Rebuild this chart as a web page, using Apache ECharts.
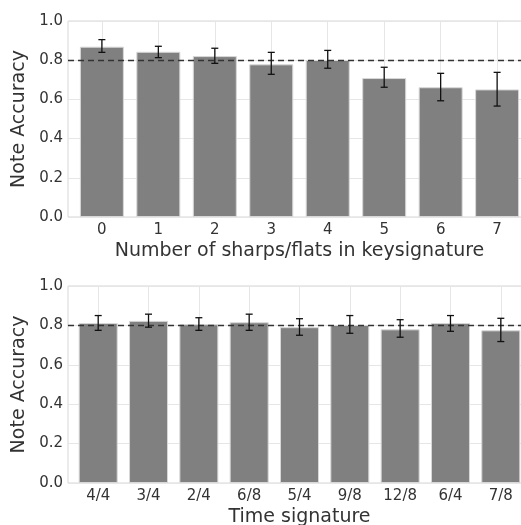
<!DOCTYPE html>
<html>
<head>
<meta charset="utf-8">
<script src="https://cdn.jsdelivr.net/npm/echarts@6/dist/echarts.min.js"></script>
<style>
  html, body { margin: 0; padding: 0; background: #fff; }
  #main { width: 521px; height: 525px; }
</style>
</head>
<body>
<div id="main"></div>
<script>
// key signature panel
var keyCats = ['0', '1', '2', '3', '4', '5', '6', '7'];
var keyAcc = [0.869, 0.843, 0.821, 0.779, 0.801, 0.709, 0.662, 0.651];
var keyLow = [0.840, 0.813, 0.784, 0.728, 0.759, 0.662, 0.593, 0.566];
var keyHigh = [0.905, 0.871, 0.861, 0.840, 0.850, 0.764, 0.733, 0.738];

// time signature panel
var timeCats = ['4/4', '3/4', '2/4', '6/8', '5/4', '9/8', '12/8', '6/4', '7/8'];
var timeAcc = [0.812, 0.823, 0.806, 0.816, 0.791, 0.802, 0.780, 0.812, 0.775];
var timeLow = [0.775, 0.791, 0.775, 0.775, 0.750, 0.760, 0.740, 0.770, 0.718];
var timeHigh = [0.850, 0.857, 0.839, 0.857, 0.834, 0.850, 0.829, 0.850, 0.836];

var refLine = 0.8;

var txt = '#333';
var font = 'DejaVu Sans';
var gridCol = '#e6e6e6';

function idx(n) {
    var a = [];
    for (var i = 0; i < n; i++) a.push(i);
    return a;
}

function xAxisFor(cats, gi, name) {
    return {
        type: 'value', gridIndex: gi,
        min: -0.6, max: cats.length - 0.4,
        name: name, nameLocation: 'middle', nameGap: 25,
        nameTextStyle: { color: txt, fontFamily: font, fontSize: 19 },
        axisLine: { show: false },
        axisTick: { show: false, customValues: idx(cats.length) },
        axisLabel: {
            customValues: idx(cats.length), color: txt, fontFamily: font, fontSize: 15, margin: 6,
            formatter: function (v) { return cats[Math.round(v)]; }
        },
        splitLine: { show: true, lineStyle: { color: gridCol, width: 1 } }
    };
}

function yAxisFor(gi) {
    return {
        type: 'value', gridIndex: gi, min: 0, max: 1, interval: 0.2,
        name: 'Note Accuracy', nameLocation: 'middle', nameGap: 36,
        nameTextStyle: { color: txt, fontFamily: font, fontSize: 19 },
        axisLine: { show: false }, axisTick: { show: false },
        axisLabel: {
            color: txt, fontFamily: font, fontSize: 15, margin: 5,
            formatter: function (v) { return v.toFixed(1); }
        },
        splitLine: { show: true, lineStyle: { color: gridCol, width: 1 } }
    };
}

function barSeries(acc, gi, w) {
    return {
        type: 'bar', xAxisIndex: gi, yAxisIndex: gi, barWidth: w,
        data: acc.map(function (v, i) { return [i, v]; }),
        itemStyle: { color: '#808080', borderColor: '#d8d8d8', borderWidth: 1 },
        markLine: {
            silent: true, symbol: 'none', label: { show: false },
            lineStyle: { color: '#333', type: [6, 4], width: 1.3 },
            data: [{ yAxis: refLine }]
        },
        z: 2
    };
}

function errSeries(low, high, gi) {
    return {
        type: 'custom', xAxisIndex: gi, yAxisIndex: gi, z: 5,
        data: low.map(function (v, i) { return [i, v, high[i]]; }),
        renderItem: function (params, api) {
            var lo = api.coord([api.value(0), api.value(1)]);
            var hi = api.coord([api.value(0), api.value(2)]);
            var c = 3.5;
            var st = { stroke: '#111', lineWidth: 1.3 };
            return {
                type: 'group',
                children: [
                    { type: 'line', shape: { x1: lo[0], y1: lo[1], x2: hi[0], y2: hi[1] }, style: st },
                    { type: 'line', shape: { x1: lo[0] - c, y1: lo[1], x2: lo[0] + c, y2: lo[1] }, style: st },
                    { type: 'line', shape: { x1: hi[0] - c, y1: hi[1], x2: hi[0] + c, y2: hi[1] }, style: st }
                ]
            };
        }
    };
}

var myChart = echarts.init(document.getElementById('main'));

var option = {
    animation: false,
    grid: [
        { left: 68, top: 21, width: 463, height: 196, outerBoundsMode: 'none',
          show: true, borderColor: '#d6d6d6', borderWidth: 1 },
        { left: 68, top: 286, width: 463, height: 197, outerBoundsMode: 'none',
          show: true, borderColor: '#d6d6d6', borderWidth: 1 }
    ],
    xAxis: [
        xAxisFor(keyCats, 0, 'Number of sharps/flats in keysignature'),
        xAxisFor(timeCats, 1, 'Time signature')
    ],
    yAxis: [yAxisFor(0), yAxisFor(1)],
    series: [
        barSeries(keyAcc, 0, 44),
        errSeries(keyLow, keyHigh, 0),
        barSeries(timeAcc, 1, 39),
        errSeries(timeLow, timeHigh, 1)
    ]
};
myChart.setOption(option);
</script>
</body>
</html>
